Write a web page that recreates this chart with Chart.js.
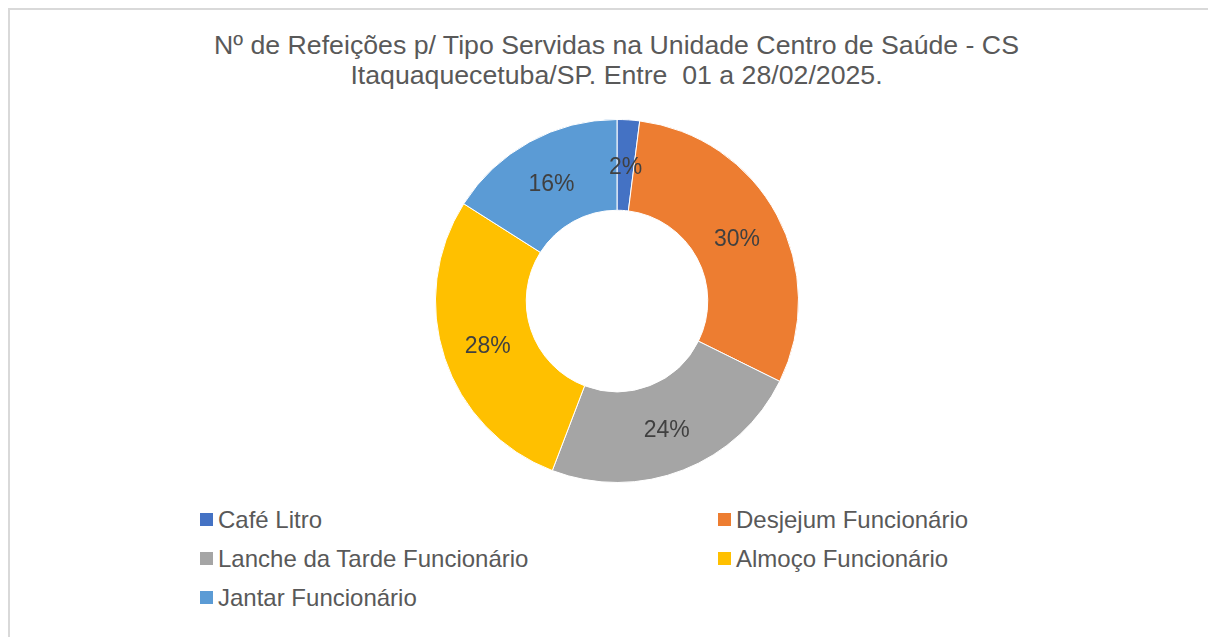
<!DOCTYPE html>
<html>
<head>
<meta charset="utf-8">
<script src="https://cdn.jsdelivr.net/npm/chart.js@4"></script>
<style>
  html, body { margin: 0; padding: 0; background: #fff; }
  body { width: 1208px; height: 637px; position: relative; overflow: hidden;
         font-family: "Liberation Sans", Arial, sans-serif; color: #595959; }
  .frame { position: absolute; left: 8px; top: 8px; width: 1300px; height: 700px;
           border-top: 2px solid #d9d9d9; border-left: 2px solid #d9d9d9; }
  .title { position: absolute; left: 0; width: 1233px; top: 30px; text-align: center;
           font-size: 26.7px; line-height: 30px; white-space: pre; }
  #wrap { position: absolute; left: 435px; top: 119px; width: 364px; height: 364px; }
  .legend { position: absolute; left: 200px; top: 500px; display: grid;
            grid-template-columns: 518px auto; grid-auto-rows: 39px; font-size: 24px; }
  .legend div { display: flex; align-items: center; }
  .legend span.box { width: 13px; height: 13px; margin-right: 5px; display: inline-block; }
</style>
</head>
<body>
<div class="frame"></div>
<div class="title">Nº de Refeições p/ Tipo Servidas na Unidade Centro de Saúde - CS
Itaquaquecetuba/SP. Entre  01 a 28/02/2025.</div>
<div id="wrap"><canvas id="chart" width="364" height="364"></canvas></div>
<div class="legend" id="legend"></div>
<script>
const categories = ['Café Litro', 'Desjejum Funcionário', 'Lanche da Tarde Funcionário', 'Almoço Funcionário', 'Jantar Funcionário'];
const shares = [2.0, 30.3, 23.5, 28.2, 16.0];
const colors = ['#4472c4', '#ed7d31', '#a5a5a5', '#ffc000', '#5b9bd5'];

// percentage labels in the middle of each slice
const sliceLabels = {
  id: 'sliceLabels',
  afterDatasetsDraw(chart) {
    const ctx = chart.ctx;
    const data = chart.data.datasets[0].data;
    const total = data.reduce((a, b) => a + b, 0);
    ctx.save();
    ctx.font = '23px "Liberation Sans", Arial, sans-serif';
    ctx.fillStyle = '#404040';
    ctx.textAlign = 'center';
    ctx.textBaseline = 'middle';
    chart.getDatasetMeta(0).data.forEach((arc, i) => {
      const p = arc.tooltipPosition();
      ctx.fillText(Math.round(data[i] / total * 100) + '%', p.x, p.y + 3);
    });
    ctx.restore();
  }
};

new Chart(document.getElementById('chart'), {
  type: 'doughnut',
  data: {
    labels: categories,
    datasets: [{
      data: shares,
      backgroundColor: colors,
      borderColor: '#fff',
      borderWidth: 1
    }]
  },
  options: {
    responsive: false,
    animation: false,
    cutout: '50%',
    plugins: { legend: { display: false }, tooltip: { enabled: false } }
  },
  plugins: [sliceLabels]
});

document.getElementById('legend').innerHTML = categories.map((c, i) =>
  `<div><span class="box" style="background:${colors[i]}"></span>${c}</div>`).join('');
</script>
</body>
</html>
